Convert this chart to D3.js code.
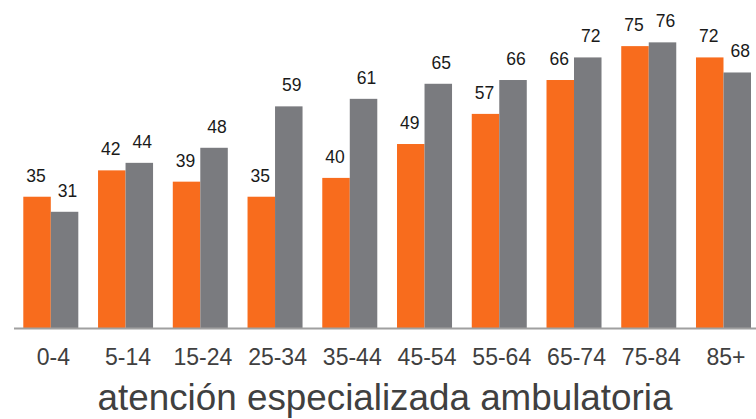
<!DOCTYPE html>
<html>
<head>
<meta charset="utf-8">
<script src="https://cdn.jsdelivr.net/npm/d3@7"></script>
<style>
html,body{margin:0;padding:0;background:#fff;}
svg{display:block;font-family:"Liberation Sans",Arial,sans-serif;}
</style>
</head>
<body>
<svg id="chart" width="756" height="419"></svg>
<script>
const categories = ["0-4","5-14","15-24","25-34","35-44","45-54","55-64","65-74","75-84","85+"];
const seriesNames = ["s1","s2"];
const orangeValues = [35,42,39,35,40,49,57,66,75,72];
const grayValues = [31,44,48,59,61,65,66,72,76,68];
const title = "atención especializada ambulatoria";

const colors = {s1:"#F86C1D", s2:"#7A7B7F"};
const labelDx = {s1:-1, s2:3};

const svg = d3.select("#chart");
const x = d3.scaleBand().domain(categories).range([23.3, 751]).paddingInner(0.264).paddingOuter(0);
const xs = d3.scaleBand().domain(seriesNames).range([0, x.bandwidth()]);
const y = d3.scaleLinear().domain([0, 100]).range([328.5, -48]);

const data = categories.map((c,i)=>({cat:c, s1:orangeValues[i], s2:grayValues[i]}));

const groups = svg.append("g").selectAll("g").data(data).join("g")
  .attr("transform", d=>`translate(${x(d.cat)},0)`);

groups.selectAll("rect").data(d=>seriesNames.map(k=>({k, v:d[k]}))).join("rect")
  .attr("x", d=>xs(d.k))
  .attr("width", xs.bandwidth())
  .attr("y", d=>y(d.v))
  .attr("height", d=>y(0)-y(d.v))
  .attr("fill", d=>colors[d.k]);

groups.selectAll("text").data(d=>seriesNames.map(k=>({k, v:d[k]}))).join("text")
  .attr("x", d=>xs(d.k)+xs.bandwidth()/2+labelDx[d.k])
  .attr("y", d=>y(d.v)-15)
  .attr("text-anchor","middle")
  .attr("font-size","17.5px")
  .attr("fill","#1a1a1a")
  .text(d=>d.v);

// axis line
svg.append("line")
  .attr("x1",14).attr("x2",756)
  .attr("y1",y(0)).attr("y2",y(0))
  .attr("stroke","#a0a0a0").attr("stroke-width",2);

// category labels via axis
const axis = d3.axisBottom(x).tickSize(0).tickPadding(0);
const ag = svg.append("g").attr("transform","translate(2.5,365)").call(axis);
ag.select(".domain").remove();
ag.selectAll("text")
  .attr("font-size","23px")
  .attr("font-family","Liberation Sans, Arial, sans-serif")
  .attr("fill","#404040")
  .attr("dy","0");

svg.append("text")
  .attr("x",385).attr("y",410)
  .attr("text-anchor","middle")
  .attr("font-size","36.8px")
  .attr("fill","#404040")
  .text(title);
</script>
</body>
</html>
